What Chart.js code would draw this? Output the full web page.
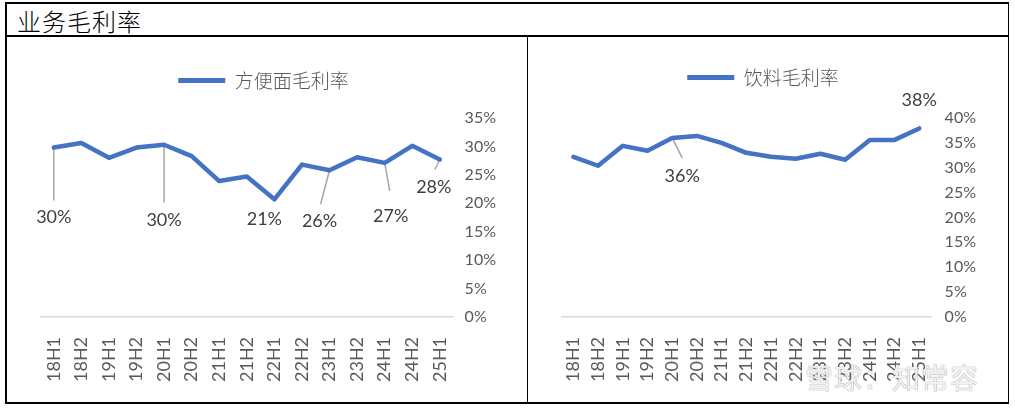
<!DOCTYPE html>
<html>
<head>
<meta charset="utf-8">
<script src="https://cdn.jsdelivr.net/npm/chart.js@4.4.0/dist/chart.umd.min.js"></script>
<style>
    body { margin: 0; background: #fff; width: 1015px; height: 409px; overflow: hidden; position: relative; }
    .line { position: absolute; background: #000; }
    #title { position: absolute; left: 17px; top: 3px; font: 300 24px "Noto Sans CJK SC", sans-serif; color: #000; letter-spacing: 1px; }
    .panel { position: absolute; top: 37px; height: 366px; }
    #left { left: 7px; width: 519px; }
    #right { left: 528px; width: 480px; }
    #mark { position: absolute; left: 805px; top: 357px; font: 28px "Noto Sans CJK SC", sans-serif; color: rgba(245,245,245,0.95);
        text-shadow: 0 0 1px #9a9a9a, 0 0 1px #9a9a9a; letter-spacing: 1px; }
</style>
</head>
<body>
<div class="line" style="left:5px;top:2px;width:1004px;height:1.5px"></div>
<div class="line" style="left:5px;top:402px;width:1004px;height:1.5px"></div>
<div class="line" style="left:5px;top:2px;width:1.5px;height:401px"></div>
<div class="line" style="left:1007.5px;top:2px;width:1.5px;height:401px"></div>
<div class="line" style="left:5px;top:35px;width:1004px;height:1.5px"></div>
<div class="line" style="left:526.5px;top:35px;width:1.5px;height:368px"></div>
<div id="title">业务毛利率</div>
<div class="panel" id="left"><canvas id="noodle"></canvas></div>
<div class="panel" id="right"><canvas id="drink"></canvas></div>
<div id="mark">雪球：知常容</div>
<script>
const periods = ['18H1', '18H2', '19H1', '19H2', '20H1', '20H2', '21H1', '21H2',
    '22H1', '22H2', '23H1', '23H2', '24H1', '24H2', '25H1'];
// 方便面毛利率 (%)
const noodleMargin = [29.8, 30.6, 28.0, 29.8, 30.3, 28.3, 23.9, 24.7, 20.7, 26.8, 25.8, 28.1, 27.1, 30.1, 27.7];
// 饮料毛利率 (%)
const drinkMargin = [32.2, 30.4, 34.4, 33.4, 36.0, 36.4, 35.0, 33.0, 32.2, 31.8, 32.8, 31.6, 35.6, 35.6, 37.9];
const noodleMax = 35;
const drinkMax = 40;

// which points get a value label, and where the label sits (px from the point)
const noodleCallouts = [
    { index: 0, dx: 0, dy: 70, leader: [0, 53] },
    { index: 4, dx: 0, dy: 75, leader: [0, 58] },
    { index: 8, dx: -10, dy: 20 },
    { index: 10, dx: -10, dy: 51, leader: [-9, 34] },
    { index: 12, dx: 6, dy: 53, leader: [5, 28] },
    { index: 14, dx: -6, dy: 28, leader: [-5, 10] }
];
const drinkCallouts = [
    { index: 4, dx: 10, dy: 38, leader: [10, 20] },
    { index: 14, dx: 0, dy: -28 }
];

const callouts = {
    id: 'callouts',
    beforeDatasetsDraw(chart, args, opts) {
        const ctx = chart.ctx;
        const meta = chart.getDatasetMeta(0);
        ctx.save();
        ctx.strokeStyle = '#a6a6a6';
        ctx.lineWidth = 1.5;
        opts.items.forEach(c => {
            if (!c.leader) return;
            const pt = meta.data[c.index];
            ctx.beginPath();
            ctx.moveTo(pt.x, pt.y);
            ctx.lineTo(pt.x + c.leader[0], pt.y + c.leader[1]);
            ctx.stroke();
        });
        ctx.restore();
    },
    afterDatasetsDraw(chart, args, opts) {
        const ctx = chart.ctx;
        const meta = chart.getDatasetMeta(0);
        const values = chart.data.datasets[0].data;
        ctx.save();
        ctx.font = '18px Lato, "Noto Sans CJK SC", sans-serif';
        ctx.fillStyle = '#404040';
        ctx.textAlign = 'center';
        ctx.textBaseline = 'middle';
        opts.items.forEach(c => {
            const pt = meta.data[c.index];
            ctx.fillText(Math.round(values[c.index]) + '%', pt.x + c.dx, pt.y + c.dy);
        });
        ctx.restore();
    }
};

// extra room under the legend, and nudge it sideways
const legendGap = {
    id: 'legendGap',
    beforeInit(chart) {
        const fit = chart.legend.fit;
        const extra = chart.options.plugins.legendGap.extra;
        chart.legend.fit = function () {
            fit.call(this);
            this.height += extra;
        };
    },
    afterLayout(chart, args, opts) {
        chart.legend.left += opts.shift;
        chart.legend.right += opts.shift;
    }
};

function drawMargin(canvasId, label, values, yMax, items, pad, tickPad, extra, shift) {
    const ctx = document.getElementById(canvasId).getContext('2d');
    return new Chart(ctx, {
        type: 'line',
        data: {
            labels: periods,
            datasets: [{
                label: label,
                data: values,
                borderColor: '#4472C4',
                backgroundColor: '#4472C4',
                borderWidth: 4.5,
                borderJoinStyle: 'round',
                borderCapStyle: 'round',
                pointRadius: 0,
                tension: 0
            }]
        },
        options: {
            responsive: true,
            maintainAspectRatio: false,
            animation: false,
            layout: { padding: pad },
            plugins: {
                tooltip: { enabled: false },
                legend: {
                    labels: {
                        boxWidth: 47,
                        boxHeight: 5,
                        borderRadius: 2.5,
                        color: '#595959',
                        font: { family: '"Noto Sans CJK SC", sans-serif', size: 19, weight: '300' },
                        generateLabels: (chart) => Chart.defaults.plugins.legend.labels.generateLabels(chart)
                            .map(l => Object.assign(l, { lineWidth: 0 }))
                    }
                },
                callouts: { items: items },
                legendGap: { extra: extra, shift: shift }
            },
            scales: {
                x: {
                    offset: true,
                    grid: { display: false },
                    border: { display: false },
                    ticks: {
                        autoSkip: false,
                        minRotation: 90,
                        maxRotation: 90,
                        padding: 12,
                        color: '#595959',
                        font: { family: 'Lato, sans-serif', size: 18 }
                    }
                },
                y: {
                    position: 'right',
                    min: 0,
                    max: yMax,
                    border: { display: false },
                    grid: {
                        drawTicks: false,
                        lineWidth: 1.5,
                        color: (c) => c.tick && c.tick.value === 0 ? '#d9d9d9' : 'rgba(0,0,0,0)'
                    },
                    ticks: {
                        stepSize: 5,
                        padding: tickPad,
                        color: '#595959',
                        font: { family: 'Lato, sans-serif', size: 16 },
                        callback: (v) => v + '%'
                    }
                }
            }
        },
        plugins: [callouts, legendGap]
    });
}

document.addEventListener('DOMContentLoaded', function () {
    drawMargin('noodle', '方便面毛利率', noodleMargin, noodleMax, noodleCallouts,
        { left: 33, right: 19, top: 24, bottom: 9 }, 11, 18, -10);
    drawMargin('drink', '饮料毛利率', drinkMargin, drinkMax, drinkCallouts,
        { left: 33, right: 19, top: 21, bottom: 9 }, 13, 21, -12);
});
</script>
</body>
</html>
